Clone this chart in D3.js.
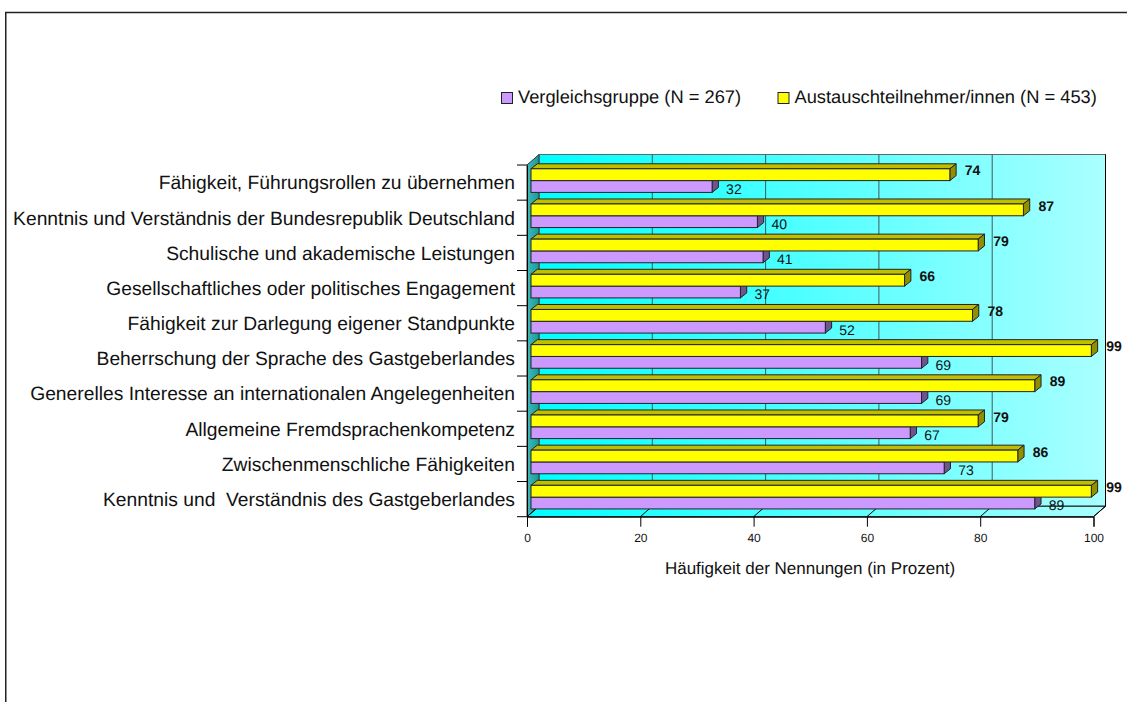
<!DOCTYPE html>
<meta charset="utf-8">
<script src="https://d3js.org/d3.v7.min.js"></script>
<style>
  html, body { margin: 0; background: #fff; }
  text { font-family: "Liberation Sans", Arial, sans-serif; fill: #111; text-rendering: geometricPrecision; }
</style>
<body>
<div id="chart"></div>
<script>
// values, top row first
var categories = [
  "Fähigkeit, Führungsrollen zu übernehmen",
  "Kenntnis und Verständnis der Bundesrepublik Deutschland",
  "Schulische und akademische Leistungen",
  "Gesellschaftliches oder politisches Engagement",
  "Fähigkeit zur Darlegung eigener Standpunkte",
  "Beherrschung der Sprache des Gastgeberlandes",
  "Generelles Interesse an internationalen Angelegenheiten",
  "Allgemeine Fremdsprachenkompetenz",
  "Zwischenmenschliche Fähigkeiten",
  "Kenntnis und  Verständnis des Gastgeberlandes"
];
var vergleich = [32, 40, 41, 37, 52, 69, 69, 67, 73, 89];
var austausch = [74, 87, 79, 66, 78, 99, 89, 79, 86, 99];
var xTicks = [0, 20, 40, 60, 80, 100];
var legendLabels = ["Vergleichsgruppe (N = 267)", "Austauschteilnehmer/innen (N = 453)"];
var axisTitle = "Häufigkeit der Nennungen (in Prozent)";

var W = 1127, H = 702;

var svg = d3.select("#chart").append("svg")
  .attr("width", W).attr("height", H)
  .style("display", "block");

// outer frame
svg.append("path")
  .attr("d", "M5.75,702V12.5H1127")
  .attr("fill", "none").attr("stroke", "#222").attr("stroke-width", 1.5);

// front plane of the 3d box
var x = d3.scaleLinear().domain([0, 100]).range([527, 1093.5]);
var y = d3.scaleBand().domain(categories).range([165, 516.7]);
var depth = {x: 12, y: -10.5};

// bars sit a bit behind the front plane
var barX = d3.scaleLinear().domain([0, 100]).range([531, 1097]);
var barH = 11.8, barTop = 3.8, side = {x: 6.3, y: -5};

var defs = svg.append("defs");
function grad(id, stops) {
  var g = defs.append("linearGradient").attr("id", id);
  stops.forEach(function(s) {
    g.append("stop").attr("offset", s[0]).attr("stop-color", s[1]);
  });
}
grad("wall", [[0, "#00ffff"], [1, "#aaffff"]]);
grad("leftwall", [[0, "#44b8b8"], [1, "#179a9a"]]);

var y0 = y.range()[1], yT = y.range()[0];

// back wall
svg.append("rect")
  .attr("x", x(0) + depth.x).attr("y", yT + depth.y)
  .attr("width", x(100) - x(0)).attr("height", y0 - yT)
  .attr("fill", "url(#wall)").attr("stroke", "#666").attr("stroke-width", 1);
// floor
svg.append("path")
  .attr("d", d3.line()([[x(0), y0], [x(100), y0], [x(100) + depth.x, y0 + depth.y], [x(0) + depth.x, y0 + depth.y]]) + "Z")
  .attr("fill", "url(#wall)").attr("stroke", "#000");
// left wall
svg.append("path")
  .attr("d", d3.line()([[x(0), yT], [x(0) + depth.x, yT + depth.y], [x(0) + depth.x, y0 + depth.y], [x(0), y0]]) + "Z")
  .attr("fill", "url(#leftwall)").attr("stroke", "#333");
// right edge of the back wall
svg.append("line")
  .attr("x1", x(100) + depth.x).attr("x2", x(100) + depth.x)
  .attr("y1", yT + depth.y).attr("y2", y0 + depth.y)
  .attr("stroke", "#000");

// grid on wall and floor
svg.append("g").selectAll("line").data(xTicks.slice(1, 5)).join("line")
  .attr("x1", function(d) { return x(d) + depth.x; })
  .attr("x2", function(d) { return x(d) + depth.x; })
  .attr("y1", yT + depth.y).attr("y2", y0 + depth.y)
  .attr("stroke", "#3c5a5a");
svg.append("g").selectAll("line").data(xTicks).join("line")
  .attr("x1", function(d) { return x(d); })
  .attr("x2", function(d) { return x(d) + depth.x; })
  .attr("y1", y0).attr("y2", y0 + depth.y)
  .attr("stroke", "#000");

// one 3d bar: top, side, then face
function drawBars(values, offset, face, top, sideCol) {
  var g = svg.append("g").selectAll("g").data(values).join("g")
    .attr("transform", function(d, i) { return "translate(0," + (y(categories[i]) + offset) + ")"; });
  g.append("path")
    .attr("d", function(d) {
      var r = barX(d), l = barX(0);
      return d3.line()([[l, 0], [l + side.x, side.y], [r + side.x, side.y], [r, 0]]) + "Z";
    })
    .attr("fill", top).attr("stroke", "#222");
  g.append("path")
    .attr("d", function(d) {
      var r = barX(d);
      return d3.line()([[r, 0], [r + side.x, side.y], [r + side.x, barH + side.y], [r, barH]]) + "Z";
    })
    .attr("fill", sideCol).attr("stroke", "#222");
  g.append("rect")
    .attr("x", barX(0)).attr("y", 0)
    .attr("width", function(d) { return barX(d) - barX(0); })
    .attr("height", barH)
    .attr("fill", face).attr("stroke", "#222");
}
drawBars(vergleich, barTop + barH, "#cc99ff", "#99739f", "#6d5590");
drawBars(austausch, barTop, "#ffff00", "#bfbf00", "#8f8f00");

// value labels
svg.append("g").selectAll("text").data(austausch).join("text")
  .attr("x", function(d) { return barX(d) + 15; })
  .attr("y", function(d, i) { return y(categories[i]) + 5.5; })
  .attr("dy", "0.35em")
  .attr("font-size", 14).attr("font-weight", "bold")
  .text(function(d) { return d; });
svg.append("g").selectAll("text").data(vergleich).join("text")
  .attr("x", function(d) { return barX(d) + 14; })
  .attr("y", function(d, i) { return y(categories[i]) + 24; })
  .attr("dy", "0.35em")
  .attr("font-size", 14)
  .text(function(d) { return d; });

// axes
var xAxis = svg.append("g")
  .attr("transform", "translate(0," + y0 + ")")
  .call(d3.axisBottom(x).tickValues(xTicks).tickSize(10).tickPadding(7));
xAxis.select(".domain").attr("stroke", "#000");
xAxis.selectAll("text").attr("font-size", 12).attr("font-family", null);

var yAxis = svg.append("g")
  .attr("transform", "translate(" + x(0) + ",0)")
  .call(d3.axisLeft(y).tickSize(0).tickPadding(12));
yAxis.selectAll(".tick text")
  .attr("font-size", 19.25).attr("font-family", null)
  .style("white-space", "pre")
  .attr("dy", "0.35em");
// category ticks fall on the band edges
yAxis.append("g").selectAll("line").data(categories.concat(["end"])).join("line")
  .attr("x1", -10).attr("x2", 0)
  .attr("y1", function(d, i) { return yT + i * y.step(); })
  .attr("y2", function(d, i) { return yT + i * y.step(); })
  .attr("stroke", "#000");

svg.append("text")
  .attr("x", 810).attr("y", 574)
  .attr("text-anchor", "middle").attr("font-size", 17)
  .text(axisTitle);

// legend
var legendX = [501, 777.5], legendCol = ["#cc99ff", "#ffff00"];
var leg = svg.append("g").selectAll("g").data(legendLabels).join("g")
  .attr("transform", function(d, i) { return "translate(" + legendX[i] + ",92)"; });
leg.append("rect")
  .attr("x", 0.5).attr("y", 0.5).attr("width", 11).attr("height", 11)
  .attr("fill", function(d, i) { return legendCol[i]; })
  .attr("stroke", "#222");
leg.append("text")
  .attr("x", 17).attr("y", 10.8)
  .attr("font-size", 18.3)
  .text(function(d) { return d; });
</script>
</body>
</html>
